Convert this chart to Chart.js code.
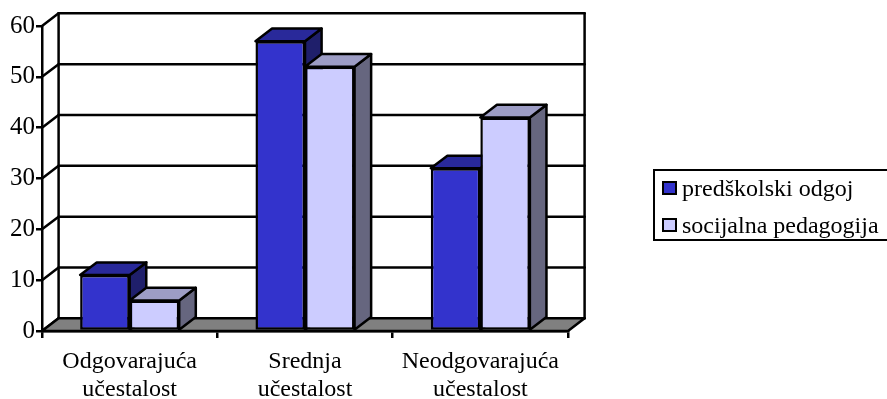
<!DOCTYPE html>
<html>
<head>
<meta charset="utf-8">
<script src="https://cdn.jsdelivr.net/npm/chart.js@4/dist/chart.umd.min.js"></script>
<style>
  body { margin: 0; background: #fff; overflow: hidden; }
  #wrap { position: relative; width: 887px; height: 399px; }
  #legend {
    position: absolute; left: 653px; top: 169px; width: 250px; height: 72px;
    border: 2px solid #000; box-sizing: border-box;
    font-family: "Liberation Serif", "Times New Roman", serif; font-size: 24px; color: #000;
  }
  .item { position: absolute; left: 7px; height: 30px; display: flex; align-items: center; white-space: nowrap; }
  .sw { width: 11px; height: 10px; border: 2px solid #000; margin-right: 5px; }
</style>
</head>
<body>
<div id="wrap">
  <canvas id="chart"></canvas>
  <div id="legend"></div>
</div>
<script>
// podaci
const categories = [['Odgovarajuća', 'učestalost'], ['Srednja', 'učestalost'], ['Neodgovarajuća', 'učestalost']];
const seriesNames = ['predškolski odgoj', 'socijalna pedagogija'];
const predskolski = [11, 57, 32];
const socijalna = [6, 52, 42];
const yTicks = [0, 10, 20, 30, 40, 50, 60];

// boje: prednja, gornja, bočna strana
const frontColors = ['#3333CC', '#CCCCFF'];
const topColors = ['#29299A', '#9D9DC5'];
const sideColors = ['#1F1F6B', '#66667F'];

// pomak za 3D dubinu
const DX = 16.6, DY = 12.7;

function poly(ctx, pts, fill) {
    ctx.beginPath();
    ctx.moveTo(pts[0][0], pts[0][1]);
    for (let k = 1; k < pts.length; k++) ctx.lineTo(pts[k][0], pts[k][1]);
    ctx.closePath();
    if (fill) { ctx.fillStyle = fill; ctx.fill(); }
    ctx.stroke();
}

function line(ctx, x1, y1, x2, y2) {
    ctx.beginPath();
    ctx.moveTo(x1, y1);
    ctx.lineTo(x2, y2);
    ctx.stroke();
}

const box3d = {
    id: 'box3d',
    beforeDatasetsDraw(chart) {
        const ctx = chart.ctx;
        const ya = chart.scales.y;
        const ca = chart.chartArea;
        const y0 = ya.getPixelForValue(0);
        const yTop = ya.getPixelForValue(yTicks[yTicks.length - 1]);
        ctx.save();
        ctx.lineWidth = 2.5;
        ctx.strokeStyle = '#000';
        ctx.lineJoin = 'round';
        ctx.lineCap = 'round';

        // zidovi i mreža
        yTicks.forEach(v => {
            const p = ya.getPixelForValue(v);
            line(ctx, ca.left, p, ca.left + DX, p - DY);
            line(ctx, ca.left + DX, p - DY, ca.right + DX, p - DY);
        });
        line(ctx, ca.left + DX, yTop - DY, ca.left + DX, y0 - DY);
        line(ctx, ca.right + DX, yTop - DY, ca.right + DX, y0 - DY);

        // pod
        poly(ctx, [[ca.left, y0], [ca.right, y0], [ca.right + DX, y0 - DY], [ca.left + DX, y0 - DY]], '#808080');

        // gornje i bočne strane stupaca
        const n = chart.data.labels.length;
        for (let j = 0; j < n; j++) {
            chart.data.datasets.forEach((ds, i) => {
                const el = chart.getDatasetMeta(i).data[j];
                const l = el.x - el.width / 2, r = el.x + el.width / 2;
                const t = el.y, b = el.base;
                poly(ctx, [[r, b], [r, t], [r + DX, t - DY], [r + DX, b - DY]], sideColors[i]);
                poly(ctx, [[l, t], [r, t], [r + DX, t - DY], [l + DX, t - DY]], topColors[i]);
            });
        }
        ctx.restore();
    }
};

const font = { family: '"Liberation Serif", "Times New Roman", serif', size: 24 };

new Chart(document.getElementById('chart'), {
    type: 'bar',
    data: {
        labels: categories,
        datasets: [
            { label: seriesNames[0], data: predskolski, backgroundColor: frontColors[0] },
            { label: seriesNames[1], data: socijalna, backgroundColor: frontColors[1] }
        ]
    },
    options: {
        responsive: true,
        maintainAspectRatio: false,
        animation: false,
        layout: { padding: { top: 26, right: 319, left: 0, bottom: 0 } },
        datasets: {
            bar: {
                borderColor: '#000',
                borderWidth: 2.5,
                borderSkipped: false,
                barPercentage: 1,
                categoryPercentage: 0.565
            }
        },
        plugins: {
            legend: { display: false },
            tooltip: { enabled: false }
        },
        scales: {
            x: {
                grid: { drawOnChartArea: false, tickLength: 7, color: '#000', lineWidth: 2.5, offset: true },
                border: { color: '#000', width: 2.5 },
                ticks: { color: '#000', font: { ...font, lineHeight: 1.15 }, padding: 10, maxRotation: 0, autoSkip: false },
                afterFit(s) { s.height = 68; }
            },
            y: {
                min: 0,
                max: 60,
                grid: { drawOnChartArea: false, tickLength: 6, color: '#000', lineWidth: 2.5 },
                border: { color: '#000', width: 2.5 },
                ticks: { stepSize: 10, color: '#000', font: { ...font, size: 25 }, padding: 1 },
                afterFit(s) { s.width = 42; }
            }
        }
    },
    plugins: [box3d]
});

// legenda
const legend = document.getElementById('legend');
seriesNames.forEach((name, i) => {
    const item = document.createElement('div');
    item.className = 'item';
    item.style.top = (i === 0 ? 2 : 39) + 'px';
    item.innerHTML = `<span class="sw" style="background:${frontColors[i]}"></span>${name}`;
    legend.appendChild(item);
});
</script>
</body>
</html>
